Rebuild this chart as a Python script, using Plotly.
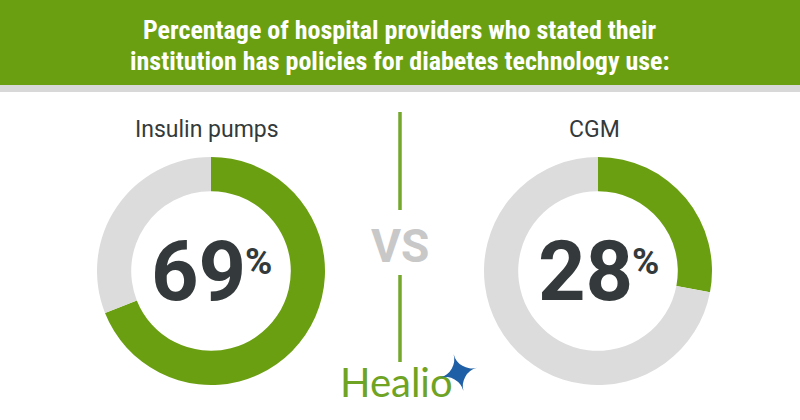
import plotly.graph_objects as go

# ---- data ----
categories = ["Insulin pumps", "CGM"]
percent_yes = [69, 28]
title_lines = ["Percentage of hospital providers who stated their",
               "institution has policies for diabetes technology use:"]
vs_label = "VS"
brand = "Healio"

GREEN = "#6b9f12"
LINE_GREEN = "#74a72c"
GRAY = "#dcdcdc"
DARK = "#343a3b"
W, H = 800, 420

def px(x):
    return x / W

def py(y):
    return 1 - y / H

centers_x = [211, 598]
cy = 271
R = 114

fig = go.Figure()
for cat, val, cx in zip(categories, percent_yes, centers_x):
    fig.add_trace(go.Pie(
        values=[val, 100 - val],
        labels=["Yes", "No"],
        marker=dict(colors=[GREEN, GRAY], line=dict(width=0)),
        hole=0.70,
        sort=False,
        direction="clockwise",
        rotation=0,
        textinfo="none",
        hoverinfo="label+percent",
        showlegend=False,
        domain=dict(x=[px(cx - R), px(cx + R)], y=[py(cy + R), py(cy - R)]),
        name=cat,
    ))

shapes = [
    dict(type="rect", xref="paper", yref="paper", x0=0, x1=1, y0=py(85), y1=1,
         fillcolor=GREEN, line=dict(width=0), layer="below"),
    dict(type="rect", xref="paper", yref="paper", x0=0, x1=1, y0=py(92), y1=py(85),
         fillcolor="#d8d8d8", line=dict(width=0), layer="below"),
    dict(type="line", xref="paper", yref="paper", x0=0.5, x1=0.5, y0=py(210), y1=py(112),
         line=dict(color=LINE_GREEN, width=3.5)),
    dict(type="line", xref="paper", yref="paper", x0=0.5, x1=0.5, y0=py(362), y1=py(275),
         line=dict(color=LINE_GREEN, width=3.5)),
]

ann = []
title_font = dict(family="Liberation Sans Narrow, Roboto Condensed, Roboto", size=26,
                  color="white", weight="bold")
for i, line in enumerate(title_lines):
    ann.append(dict(text=line, x=0.5, y=py(30 + 31 * i), xref="paper", yref="paper",
                    showarrow=False, xanchor="center", yanchor="middle", font=title_font))

for cat, val, cx in zip(categories, percent_yes, centers_x):
    ann.append(dict(text=cat, x=px(cx - 4), y=py(129), xref="paper", yref="paper",
                    showarrow=False, xanchor="center", yanchor="middle",
                    font=dict(family="Roboto", size=23, color=DARK)))
    ann.append(dict(text=str(val), x=px(cx - 13), y=py(271), xref="paper", yref="paper",
                    showarrow=False, xanchor="center", yanchor="middle",
                    font=dict(family="Roboto", size=83, color=DARK, weight="bold")))
    ann.append(dict(text="%", x=px(cx + 47), y=py(261), xref="paper", yref="paper",
                    showarrow=False, xanchor="center", yanchor="middle",
                    font=dict(family="Roboto", size=37, color=DARK, weight="bold")))

ann.append(dict(text=vs_label, x=0.5, y=py(246), xref="paper", yref="paper",
                showarrow=False, xanchor="center", yanchor="middle",
                font=dict(family="Roboto", size=46, color="#c8c8c8", weight="bold")))
ann.append(dict(text=brand, x=px(396), y=py(382), xref="paper", yref="paper",
                showarrow=False, xanchor="center", yanchor="middle",
                font=dict(family="Lato", size=40, color="#6ea324")))
ann.append(dict(text="✦", x=px(459), y=py(374), xref="paper", yref="paper",
                showarrow=False, xanchor="center", yanchor="middle", textangle=-15,
                font=dict(family="DejaVu Sans", size=50, color="#1f5fa6")))

fig.update_layout(
    width=W, height=H,
    margin=dict(l=0, r=0, t=0, b=0),
    paper_bgcolor="white",
    plot_bgcolor="white",
    shapes=shapes,
    annotations=ann,
)

fig.write_html("out.html",
               config={"displayModeBar": False},
               post_script="document.body.style.margin='0';document.body.style.overflow='hidden';")
